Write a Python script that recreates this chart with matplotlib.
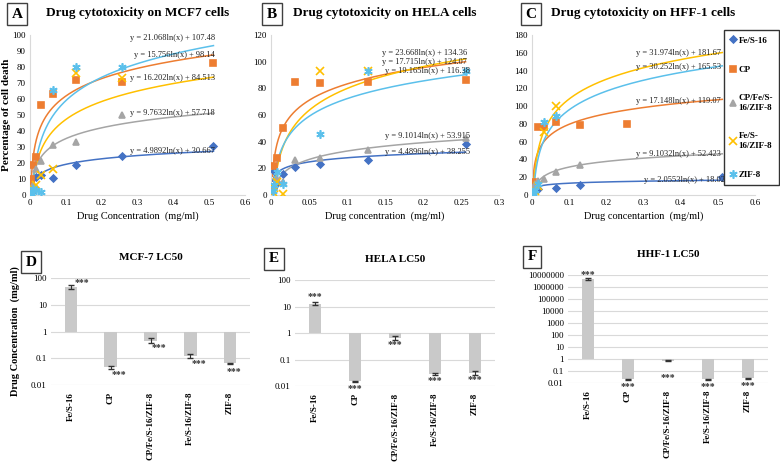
import numpy as np
import matplotlib
matplotlib.use("Agg")
import matplotlib.pyplot as plt
from matplotlib.ticker import FixedLocator, FuncFormatter

plt.rcParams['font.family'] = ['Liberation Serif', 'DejaVu Serif']

# ---- cytotoxicity data (percentage of cell death) ----
series = ["Fe/S-16", "CP", "CP/Fe/S-16/ZIF-8", "Fe/S-16/ZIF-8", "ZIF-8"]
legend_labels = ["Fe/S-16", "CP", "CP/Fe/S-\n16/ZIF-8", "Fe/S-\n16/ZIF-8", "ZIF-8"]
nan = np.nan

conc_a = [0.512, 0.256, 0.128, 0.064, 0.032, 0.016, 0.008, 0.004, 0.002]
fes16_a = [30.5, 24.5, 18.5, 10.5, 12.5, 11.5, 5, 2, 1]
cp_a = [82.5, 70.5, 72, 63, 56.5, 23.7, 19, 10, 6]
cpfes_a = [nan, 50.3, 33.4, 31.3, 21.1, 16.5, 6, 3, 1.5]
feszif_a = [nan, 73, 76, 16.5, 12.7, 6.3, 4, 2, 1]
zif_a = [nan, 80.3, 80.3, 65.5, 2, 3, 4, 1, 0.5]

conc_b = [0.256, 0.128, 0.064, 0.032, 0.016, 0.008, 0.004, 0.002]
fes16_b = [38, 26, 23, 21, 16, 9, 18, 5]
cp_b = [86, 85, 84, 85, 50.5, 27.5, 22, nan]
cpfes_b = [43, 34, 28, 26, 9.5, 12, 6, 3]
feszif_b = [nan, 93, 93, nan, 1, 10, 5, 2]
zif_b = [93, 93, 45.5, nan, 8, 17.5, 7.5, 3]

conc_c = [0.512, 0.256, 0.128, 0.064, 0.032, 0.016, 0.008, 0.004, 0.002]
fes16_c = [20.5, nan, 11, 8.3, nan, 7.2, 11, 9, 5]
cp_c = [nan, 79.5, 79, 82, 77, 76, 12, 14.5, nan]
cpfes_c = [nan, nan, 33.6, 26.4, 18.5, 16, 12, 8, 4]
feszif_c = [nan, nan, nan, 100, 71, 10, 4.5, 2, 1]
zif_c = [nan, nan, nan, 89, 82, 12, 6, 3, 1]

# logarithmic trendlines printed on the chart: (slope, intercept)
fit_a = [(4.9892, 30.667), (15.756, 98.14), (9.7632, 57.718), (16.202, 84.513), (21.068, 107.48)]
fit_b = [(4.4896, 38.255), (17.715, 124.07), (9.1014, 53.915), (23.668, 134.36), (19.165, 116.38)]
fit_c = [(2.0553, 18.02), (17.148, 119.07), (9.1032, 52.423), (31.974, 181.67), (30.252, 165.53)]

# ---- LC50 data (mg/ml) ----
lc_cats = ["Fe/S-16", "CP", "CP/Fe/S-16/ZIF-8", "Fe/S-16/ZIF-8", "ZIF-8"]
lc50_mcf7 = [48, 0.046, 0.46, 0.12, 0.065]
err_mcf7 = [8, 0.006, 0.1, 0.02, 0.003]
lc50_hela = [13, 0.015, 0.66, 0.029, 0.031]
err_hela = [1.5, 0.001, 0.12, 0.002, 0.005]
lc50_hhf = [4.6e6, 0.02, 0.75, 0.02, 0.025]
err_hhf = [1e6, 0.002, 0.08, 0.002, 0.002]

colors = ["#4472C4", "#ED7D31", "#A5A5A5", "#FFC000", "#5BC0EB"]
markers = ["D", "s", "^", "x", (6, 2, 0)]
msizes = [3.5, 5, 4.5, 5.5, 6]

fig = plt.figure(figsize=(7.8, 4.66), dpi=100)
W, H = 780.0, 466.0


def px_axes(l, t, r, b):
    return fig.add_axes([l / W, 1 - b / H, (r - l) / W, (b - t) / H])


def box_letter(x, y, s):
    fig.text(x / W, 1 - y / H, s, fontsize=11, fontweight='bold', ha='center', va='center',
             bbox=dict(boxstyle='square,pad=0.3', fc='white', ec='#404040', lw=1))


def scatter_panel(ax, conc, ys, fits, eq_pos, xmax, ymax, xticks, yticks, title, xlabel):
    for i in range(5):
        ax.plot(conc, ys[i], linestyle='none', marker=markers[i], color=colors[i],
                markersize=msizes[i], markeredgewidth=1.2, label=legend_labels[i], zorder=3)
        a, b = fits[i]
        xs = np.geomspace(min(conc), max(conc), 300)
        ax.plot(xs, a * np.log(xs) + b, color=colors[i], lw=1.1, zorder=2)
        ex, ey = eq_pos[i]
        ax.text(ex, ey, f"y = {a:g}ln(x) + {b:g}", fontsize=6, color='#222222', zorder=4)
    ax.set_xlim(0, xmax)
    ax.set_ylim(0, ymax)
    ax.set_xticks(xticks)
    ax.set_yticks(yticks)
    ax.xaxis.set_major_formatter(FuncFormatter(lambda v, p: f"{v:g}"))
    ax.tick_params(length=0, labelsize=6.5, pad=3)
    for s in ['top', 'right']:
        ax.spines[s].set_visible(False)
    for s in ['left', 'bottom']:
        ax.spines[s].set_color('#D9D9D9')
    ax.set_xlabel(xlabel, fontsize=7.5, labelpad=3)
    ax.set_title(title, fontsize=9.5, fontweight='bold', pad=14)


ax_a = px_axes(30, 35, 245, 195)
scatter_panel(ax_a, conc_a, [fes16_a, cp_a, cpfes_a, feszif_a, zif_a], fit_a,
              [(0.278, 26), (0.29, 86), (0.278, 50), (0.278, 72), (0.278, 97)],
              0.6, 100, np.arange(0, 0.61, 0.1), range(0, 101, 10),
              "Drug cytotoxicity on MCF7 cells", "Drug Concentration  (mg/ml)")
ax_a.set_ylabel("Percentage of cell death", fontsize=8, fontweight='bold', labelpad=1)

ax_b = px_axes(271, 35, 499, 195)
scatter_panel(ax_b, conc_b, [fes16_b, cp_b, cpfes_b, feszif_b, zif_b], fit_b,
              [(0.15, 31), (0.146, 98), (0.15, 43), (0.146, 105), (0.15, 91.5)],
              0.3, 120, np.arange(0, 0.31, 0.05), range(0, 121, 20),
              "Drug cytotoxicity on HELA cells", "Drug concentration  (mg/ml)")

ax_c = px_axes(532, 35, 755, 195)
scatter_panel(ax_c, conc_c, [fes16_c, cp_c, cpfes_c, feszif_c, zif_c], fit_c,
              [(0.3, 15), (0.28, 104), (0.28, 44), (0.28, 157), (0.28, 142)],
              0.6, 180, np.arange(0, 0.61, 0.1), range(0, 181, 20),
              "Drug cytotoxicity on HFF-1 cells", "Drug concentartion  (mg/ml)")
leg = ax_c.legend(loc='upper left', bbox_to_anchor=(724 / W, 1 - 30 / H), bbox_transform=fig.transFigure,
                  prop={'weight': 'bold', 'size': 6.5}, frameon=True, fancybox=False,
                  handlelength=0.5, handletextpad=0.4, borderpad=0.7, labelspacing=2.3,
                  borderaxespad=0, framealpha=1)
leg.get_frame().set_edgecolor('#333333')
leg.get_frame().set_linewidth(1)

box_letter(17, 14, "A")
box_letter(272, 14, "B")
box_letter(531, 14, "C")


# ---- LC50 bar charts ----
def lc_panel(ax, vals, errs, ymin, ymax, title, star_offsets):
    x = np.arange(len(vals))
    vals = np.array(vals)
    ax.set_yscale('log')
    ax.bar(x, vals - 1, bottom=1, width=0.32, color='#C9C9C9', zorder=2)
    ax.errorbar(x, vals, yerr=errs, fmt='none', ecolor='#333333', elinewidth=0.8, capsize=2, zorder=3)
    ticks = [10.0 ** k for k in range(int(np.log10(ymin)), int(np.log10(ymax)) + 1)]
    ax.yaxis.set_major_locator(FixedLocator(ticks))
    ax.yaxis.set_minor_locator(FixedLocator([]))
    ax.yaxis.set_major_formatter(FuncFormatter(lambda v, p: f"{v:.0f}" if v >= 1 else f"{v:g}"))
    ax.set_ylim(ymin, ymax * 1.02)
    ax.set_xlim(-0.5, len(vals) - 0.5)
    ax.grid(axis='y', color='#D9D9D9', lw=0.8, zorder=0)
    ax.set_xticks(x)
    ax.set_xticklabels(lc_cats, rotation=90, fontsize=6.5, fontweight='bold')
    ax.tick_params(axis='y', length=0, labelsize=6.5, pad=3)
    ax.tick_params(axis='x', length=0, pad=5)
    for s in ax.spines.values():
        s.set_visible(False)
    ax.set_title(title, fontsize=8, fontweight='bold', pad=13)
    for i, v in enumerate(vals):
        dx, dy = star_offsets[i]
        ax.annotate("***", (x[i], v), xytext=(dx, dy), textcoords='offset points',
                    ha='center', va='center', fontsize=7, fontweight='bold', color='#333333')


ax_d = px_axes(51, 278, 250, 385)
lc_panel(ax_d, lc50_mcf7, err_mcf7, 0.01, 100, "MCF-7 LC50",
         [(8, 3), (6, -5), (6, -5), (6, -5), (3, -6)])
ax_d.set_ylabel("Drug Concentration  (mg/ml)", fontsize=7.5, fontweight='bold', labelpad=8)

ax_e = px_axes(295, 280, 495, 386)
lc_panel(ax_e, lc50_hela, err_hela, 0.01, 100, "HELA LC50",
         [(0, 5), (0, -5), (0, -5), (0, -5), (0, -5)])

ax_f = px_axes(568, 275, 768, 383)
lc_panel(ax_f, lc50_hhf, err_hhf, 0.01, 1e7, "HHF-1 LC50",
         [(0, 3), (0, -5), (0, -12), (0, -5), (0, -5)])

box_letter(31, 262, "D")
box_letter(274, 259, "E")
box_letter(532, 257, "F")

fig.savefig("out.png", dpi=100)
